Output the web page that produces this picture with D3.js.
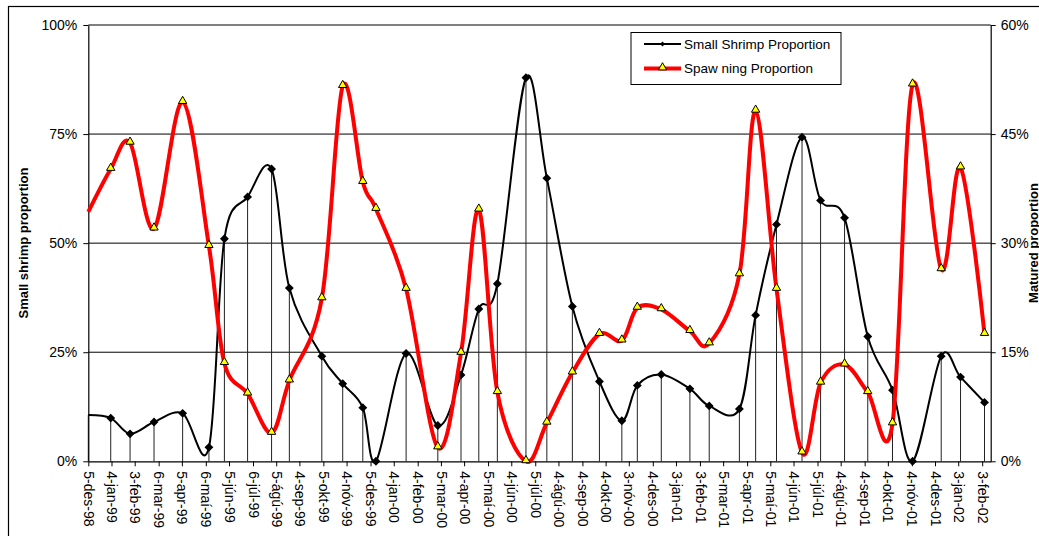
<!DOCTYPE html>
<html>
<head>
<meta charset="utf-8">
<script src="https://cdn.jsdelivr.net/npm/d3@7"></script>
<style>
  body { margin: 0; background: #fff; }
  svg { display: block; font-family: "Liberation Sans", Arial, sans-serif; }
</style>
</head>
<body>
<svg id="chart" width="1039" height="536"></svg>
<script>
// sampling dates, shared by both series
var sampleDates = ["1998-12-05", "1999-01-03", "1999-01-28", "1999-02-28", "1999-04-06", "1999-05-10",
    "1999-05-30", "1999-06-29", "1999-07-30", "1999-08-22", "1999-10-03", "1999-10-30", "1999-11-25",
    "1999-12-12", "2000-01-20", "2000-03-01", "2000-03-31", "2000-04-23", "2000-05-17", "2000-06-23",
    "2000-07-20", "2000-08-22", "2000-09-26", "2000-10-25", "2000-11-14", "2000-12-15", "2001-01-21",
    "2001-02-15", "2001-03-26", "2001-04-16", "2001-05-13", "2001-06-15", "2001-07-09", "2001-08-09",
    "2001-09-08", "2001-10-10", "2001-11-05", "2001-12-12", "2002-01-06", "2002-02-06"];

// percent, left axis
var smallShrimp = [10.6, 9.9, 6.3, 9.0, 11.0, 3.2, 51.0, 60.6, 67.0, 39.7, 24.1, 17.8, 12.3,
    0.0, 24.7, 8.2, 19.8, 34.9, 40.7, 87.9, 64.9, 35.5, 18.3, 9.3, 17.4, 19.9, 16.6,
    12.7, 12.0, 33.5, 54.3, 74.3, 59.8, 55.8, 28.6, 16.3, 0.0, 24.1, 19.3, 13.5];

// percent, right axis
var spawning = [34.3, 40.2, 43.8, 32.0, 49.4, 29.6, 13.5, 9.3, 3.9, 11.1, 22.4, 51.6, 38.4,
    34.7, 23.7, 1.9, 14.9, 34.6, 9.5, 0.0, 5.3, 12.2, 17.5, 16.6, 21.1, 20.9, 17.9,
    16.2, 25.7, 48.2, 23.7, 1.2, 10.8, 13.3, 9.5, 5.2, 51.8, 26.4, 40.4, 17.5];

var tickLabels = ["5-des-98", "4-jan-99", "3-feb-99", "6-mar-99", "5-apr-99", "6-maí-99", "5-jún-99",
    "6-júl-99", "5-ágú-99", "4-sep-99", "5-okt-99", "4-nóv-99", "5-des-99", "4-jan-00", "4-feb-00",
    "5-mar-00", "4-apr-00", "5-maí-00", "4-jún-00", "5-júl-00", "4-ágú-00", "4-sep-00", "4-okt-00",
    "3-nóv-00", "4-des-00", "3-jan-01", "3-feb-01", "5-mar-01", "5-apr-01", "5-maí-01", "4-jún-01",
    "5-júl-01", "4-ágú-01", "4-sep-01", "4-okt-01", "4-nóv-01", "4-des-01", "3-jan-02", "3-feb-02"];

var leftTicks = [0, 25, 50, 75, 100];
var rightTicks = [0, 15, 30, 45, 60];

var monthNames = ["jan", "feb", "mar", "apr", "maí", "jún", "júl", "ágú", "sep", "okt", "nóv", "des"];

function parseLabel(s) {
    var p = s.split("-");
    var yy = +p[2];
    return new Date(yy < 50 ? 2000 + yy : 1900 + yy, monthNames.indexOf(p[1]), +p[0]);
}

function draw() {
    var parseDate = d3.timeParse("%Y-%m-%d");
    var data = sampleDates.map(function (d, i) {
        return {date: parseDate(d), shrimp: smallShrimp[i], spawn: spawning[i]};
    });

    var svg = d3.select("#chart");
    var plotLeft = 88.3, plotRight = 990.7, plotTop = 25, plotBottom = 461.3;

    var x = d3.scaleTime()
        .domain([new Date(1998, 11, 5), new Date(2002, 1, 14)])
        .range([plotLeft, plotRight]);
    var yL = d3.scaleLinear().domain([0, 100]).range([plotBottom, plotTop]);
    var yR = d3.scaleLinear().domain([0, 60]).range([plotBottom, plotTop]);

    svg.append("rect").attr("width", 1039).attr("height", 536).attr("fill", "#fff");
    // chart frame, runs off the right and bottom edge like the original
    svg.append("rect")
        .attr("x", 8.5).attr("y", 6.5).attr("width", 1100).attr("height", 600)
        .attr("fill", "none").attr("stroke", "#000").attr("stroke-width", 1.2);

    // gridlines
    svg.append("g").selectAll("line")
        .data(leftTicks.slice(1))
        .enter().append("line")
        .attr("x1", plotLeft).attr("x2", plotRight)
        .attr("y1", function (d) { return yL(d); })
        .attr("y2", function (d) { return yL(d); })
        .attr("stroke", "#000").attr("stroke-width", 1);

    // drop lines under the shrimp points
    svg.append("g").selectAll("line")
        .data(data)
        .enter().append("line")
        .attr("x1", function (d) { return x(d.date); })
        .attr("x2", function (d) { return x(d.date); })
        .attr("y1", function (d) { return yL(d.shrimp); })
        .attr("y2", plotBottom)
        .attr("stroke", "#222").attr("stroke-width", 1);

    // axes
    var xAxis = d3.axisBottom(x)
        .tickValues(tickLabels.map(parseLabel))
        .tickFormat(function (d, i) { return tickLabels[i]; })
        .tickSize(5).tickSizeOuter(0);
    var gx = svg.append("g").attr("transform", "translate(0," + plotBottom + ")").call(xAxis);
    gx.selectAll("text")
        .attr("transform", "rotate(90)")
        .attr("x", 10).attr("y", 0).attr("dy", "0.35em")
        .style("text-anchor", "start");

    svg.append("g").attr("transform", "translate(" + plotLeft + ",0)")
        .call(d3.axisLeft(yL).tickValues(leftTicks).tickFormat(function (d) { return d + "%"; })
            .tickSize(5).tickSizeOuter(0).tickPadding(6));
    svg.append("g").attr("transform", "translate(" + plotRight + ",0)")
        .call(d3.axisRight(yR).tickValues(rightTicks).tickFormat(function (d) { return d + "%"; })
            .tickSize(5).tickSizeOuter(0).tickPadding(5));

    svg.selectAll(".domain").attr("stroke", "#000").attr("stroke-width", 1.2);
    svg.selectAll(".tick line").attr("stroke", "#000");
    svg.selectAll(".tick text").attr("font-size", 14).attr("fill", "#000")
        .attr("font-family", "'Liberation Sans', Arial, sans-serif");

    // axis titles
    svg.append("text")
        .attr("transform", "translate(23,243) rotate(-90)")
        .attr("text-anchor", "middle").attr("dy", "0.35em")
        .attr("font-size", 13).attr("font-weight", "bold")
        .text("Small shrimp proportion");
    svg.append("text")
        .attr("transform", "translate(1033.5,243) rotate(-90)")
        .attr("text-anchor", "middle").attr("dy", "0.35em")
        .attr("font-size", 13).attr("font-weight", "bold")
        .text("Matured proportion");

    // series
    var shrimpLine = d3.line()
        .x(function (d) { return x(d.date); })
        .y(function (d) { return yL(d.shrimp); })
        .curve(d3.curveCardinal);
    var spawnLine = d3.line()
        .x(function (d) { return x(d.date); })
        .y(function (d) { return yR(d.spawn); })
        .curve(d3.curveCardinal);

    var diamond = d3.symbol().type(d3.symbolDiamond2).size(50);
    var triangle = d3.symbol().type(d3.symbolTriangle).size(30);

    svg.append("path").datum(data)
        .attr("d", shrimpLine)
        .attr("fill", "none").attr("stroke", "#000").attr("stroke-width", 2);
    // first sample sits on the axis and had no marker
    svg.append("g").selectAll("path")
        .data(data.slice(1))
        .enter().append("path")
        .attr("d", diamond)
        .attr("transform", function (d) { return "translate(" + x(d.date) + "," + yL(d.shrimp) + ")"; })
        .attr("fill", "#000");

    svg.append("path").datum(data)
        .attr("d", spawnLine)
        .attr("fill", "none").attr("stroke", "#ff0000").attr("stroke-width", 4)
        .attr("stroke-linejoin", "round");
    svg.append("g").selectAll("path")
        .data(data.slice(1))
        .enter().append("path")
        .attr("d", triangle)
        .attr("transform", function (d) { return "translate(" + x(d.date) + "," + (yR(d.spawn) - 1) + ")"; })
        .attr("fill", "#ffff00").attr("stroke", "#000").attr("stroke-width", 1);

    // legend
    var lg = svg.append("g");
    lg.append("rect")
        .attr("x", 631).attr("y", 32.5).attr("width", 210).attr("height", 52)
        .attr("fill", "#fff").attr("stroke", "#000").attr("stroke-width", 1);
    lg.append("line").attr("x1", 644).attr("x2", 681).attr("y1", 44).attr("y2", 44)
        .attr("stroke", "#000").attr("stroke-width", 2);
    lg.append("path").attr("d", d3.symbol().type(d3.symbolDiamond2).size(16))
        .attr("transform", "translate(662.5,44)").attr("fill", "#000");
    lg.append("line").attr("x1", 644).attr("x2", 681).attr("y1", 68.5).attr("y2", 68.5)
        .attr("stroke", "#ff0000").attr("stroke-width", 4);
    lg.append("path").attr("d", triangle)
        .attr("transform", "translate(662.5,67.5)")
        .attr("fill", "#ffff00").attr("stroke", "#000").attr("stroke-width", 1);
    lg.append("text").attr("x", 684).attr("y", 44).attr("dy", "0.35em")
        .attr("font-size", 13.5).text("Small Shrimp Proportion");
    lg.append("text").attr("x", 684).attr("y", 68.5).attr("dy", "0.35em")
        .attr("font-size", 13.5).text("Spaw ning Proportion");
}

draw();
</script>
</body>
</html>
